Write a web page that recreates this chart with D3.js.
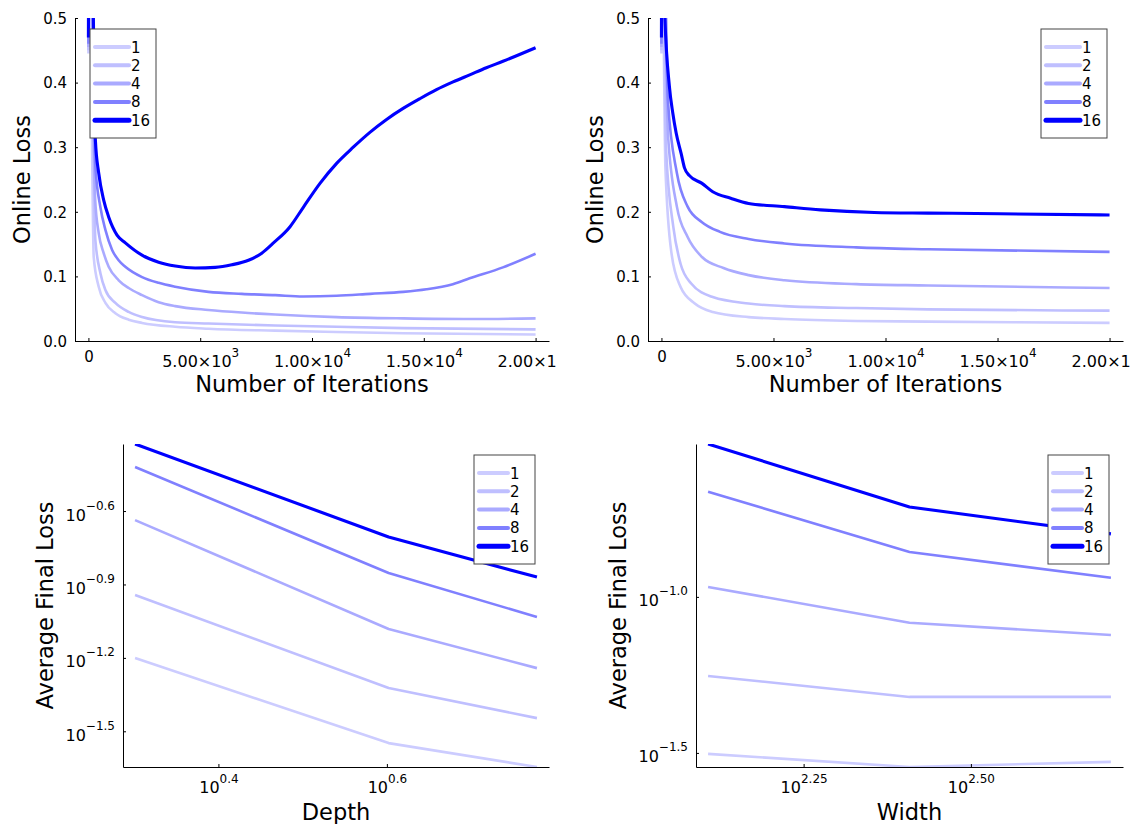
<!DOCTYPE html>
<html>
<head>
<meta charset="utf-8">
<script src="https://cdn.jsdelivr.net/npm/d3@7"></script>
<style>
body { margin: 0; background: #fff; }
text { font-family: "DejaVu Sans", sans-serif; fill: #000; }
</style>
</head>
<body>
<script>
'use strict'

var width = 1131
var height = 824

var seriesNames = ["1", "2", "4", "8", "16"]
var seriesColors = ["#ccccff", "#bfbfff", "#aaaaff", "#8080ff", "#0000ff"]

// online loss over iterations, left run: [iteration, loss]
var leftRun1 = [[0,0.445],[50,0.6],[238,0.13],[460,0.084],[760,0.059],[1205,0.043],[1800,0.033],[2400,0.028],[3880,0.022],[5370,0.019],[8350,0.016],[11100,0.014],[14080,0.012],[20000,0.010]]
var leftRun2 = [[0,0.45],[50,0.65],[312,0.156],[536,0.105],[760,0.079],[1205,0.059],[1800,0.045],[2400,0.037],[3880,0.029],[5370,0.027],[8350,0.024],[11100,0.022],[14080,0.020],[20000,0.018]]
var leftRun4 = [[0,0.455],[50,0.7],[300,0.22],[460,0.167],[683,0.136],[906,0.115],[1354,0.094],[1800,0.082],[2400,0.071],[3140,0.060],[3880,0.054],[5370,0.048],[6860,0.044],[8350,0.041],[11100,0.037],[14080,0.035],[17050,0.034],[20000,0.035]]
var leftRun8 = [[0,0.46],[50,0.8],[312,0.27],[536,0.207],[760,0.172],[1060,0.141],[1350,0.125],[1650,0.115],[2400,0.099],[3140,0.090],[3880,0.084],[5370,0.076],[6860,0.073],[8350,0.071],[9600,0.069],[11100,0.070],[12600,0.073],[14080,0.076],[15120,0.080],[16300,0.088],[17050,0.097],[18540,0.114],[20000,0.135]]
var leftRun16 = [[0,0.47],[50,0.9],[312,0.311],[460,0.26],[683,0.218],[906,0.192],[1280,0.164],[1652,0.152],[2397,0.133],[3140,0.122],[3884,0.116],[4777,0.113],[5670,0.114],[6414,0.118],[7158,0.125],[7753,0.136],[8250,0.151],[9018,0.177],[9612,0.207],[10357,0.244],[11101,0.275],[11845,0.300],[12589,0.323],[13335,0.343],[14076,0.360],[14821,0.375],[15567,0.389],[16308,0.401],[17054,0.412],[17799,0.423],[18540,0.433],[20000,0.454]]

// online loss over iterations, right run
var rightRun1 = [[0,0.445],[40,0.6],[176,0.27],[448,0.136],[849,0.084],[1489,0.058],[2290,0.045],[3891,0.037],[5492,0.034],[8695,0.031],[11898,0.030],[20000,0.028]]
var rightRun2 = [[0,0.45],[40,0.65],[208,0.296],[528,0.177],[849,0.120],[1329,0.089],[2290,0.068],[3891,0.058],[5492,0.054],[8695,0.051],[11898,0.049],[20000,0.047]]
var rightRun4 = [[0,0.455],[40,0.7],[288,0.322],[689,0.208],[1169,0.161],[1809,0.130],[2770,0.113],[3891,0.102],[5492,0.094],[8695,0.088],[11898,0.086],[20000,0.082]]
var rightRun8 = [[0,0.46],[40,0.8],[288,0.373],[689,0.260],[1169,0.208],[1809,0.184],[2610,0.169],[3891,0.158],[5492,0.151],[8695,0.145],[11898,0.142],[20000,0.138]]
var rightRun16 = [[0,0.47],[40,0.9],[134,0.52],[358,0.393],[506,0.353],[657,0.322],[881,0.290],[1029,0.268],[1250,0.256],[1810,0.244],[2290,0.231],[3090,0.221],[3890,0.213],[5490,0.208],[7090,0.203],[9500,0.199],[11900,0.198],[15100,0.197],[20000,0.195]]

// average final loss against depth
var depths = [2, 4, 6]
var depthLoss1 = [0.0630, 0.0283, 0.0226]
var depthLoss2 = [0.1140, 0.0475, 0.0358]
var depthLoss4 = [0.2307, 0.0828, 0.0573]
var depthLoss8 = [0.380, 0.1403, 0.0927]
var depthLoss16 = [0.472, 0.1968, 0.1349]

// average final loss against width
var widths = [128, 256, 512]
var widthLoss1 = [0.0314, 0.0285, 0.0296]
var widthLoss2 = [0.0558, 0.0478, 0.0478]
var widthLoss4 = [0.1076, 0.0826, 0.0755]
var widthLoss8 = [0.2173, 0.1393, 0.1151]
var widthLoss16 = [0.309, 0.1941, 0.1592]

// ticks
var iterTicks = [0, 5000, 10000, 15000, 20000]
var iterTickMant = ["0", "5.00×10", "1.00×10", "1.50×10", "2.00×10"]
var iterTickSup = ["", "3", "4", "4", "4"]
var lossTicks = [0, 0.1, 0.2, 0.3, 0.4, 0.5]
var lossTickLabels = ["0.0", "0.1", "0.2", "0.3", "0.4", "0.5"]
var depthTickExp = [0.4, 0.6]
var depthTickSup = ["0.4", "0.6"]
var depthLossTickExp = [-0.6, -0.9, -1.2, -1.5]
var depthLossTickSup = ["−0.6", "−0.9", "−1.2", "−1.5"]
var widthTickExp = [2.25, 2.5]
var widthTickSup = ["2.25", "2.50"]
var widthLossTickExp = [-1.0, -1.5]
var widthLossTickSup = ["−1.0", "−1.5"]

var svg = d3.select("body").append("svg")
  .attr("width", width)
  .attr("height", height)

function padLinear(lo, hi) {
  var p = 0.03 * (hi - lo)
  return [lo - p, hi + p]
}

function padLog(lo, hi) {
  var a = Math.log10(lo), b = Math.log10(hi), p = 0.03 * (b - a)
  return [Math.pow(10, a - p), Math.pow(10, b + p)]
}

function labelTicks(sel, mant, sup, baseY, supDy) {
  sel.selectAll(".tick text").each(function(d, i) {
    var t = d3.select(this)
    t.text(null).attr("dy", null).attr("font-family", "DejaVu Sans")
      .attr("font-size", sup[i] ? 16 : 15)
    if (baseY != null) t.attr("y", sup[i] ? baseY : baseY - 5)
    t.append("tspan").text(mant[i])
    if (sup[i]) t.append("tspan").attr("dy", supDy).attr("font-size", 12).text(sup[i])
  })
}

function addLegend(g, x0, y0, w) {
  var lg = g.append("g")
  lg.append("rect").attr("x", x0).attr("y", y0).attr("width", w).attr("height", 109)
    .attr("fill", "#fff").attr("stroke", "#444").attr("stroke-width", 1)
  seriesNames.forEach(function(name, i) {
    var yy = y0 + 18 + i * 18.3
    lg.append("line").attr("x1", x0 + 5).attr("x2", x0 + w - 27).attr("y1", yy).attr("y2", yy)
      .attr("stroke", seriesColors[i]).attr("stroke-width", i == 4 ? 5 : 4).attr("stroke-linecap", "round")
    lg.append("text").attr("x", x0 + w - 25).attr("y", yy + 5.5).attr("font-size", 15).text(name)
  })
}

function addPanel(opt) {
  var g = svg.append("g")
  var x = opt.x, y = opt.y
  var x0 = x.range()[0], x1 = x.range()[1], y0 = y.range()[1], y1 = y.range()[0]
  if (opt.clipRight) {
    svg.append("clipPath").attr("id", "panel" + opt.id)
      .append("rect").attr("x", 0).attr("y", 0).attr("width", opt.clipRight).attr("height", height)
    g.attr("clip-path", "url(#panel" + opt.id + ")")
  }
  svg.append("clipPath").attr("id", "area" + opt.id)
    .append("rect").attr("x", x0).attr("y", y0).attr("width", x1 - x0).attr("height", y1 - y0)

  var line = d3.line()
    .x(function(d) { return x(d[0]) })
    .y(function(d) { return y(d[1]) })
    .curve(opt.curve)
  g.append("g").attr("clip-path", "url(#area" + opt.id + ")")
    .selectAll("path")
    .data(opt.series)
    .enter()
    .append("path")
    .attr("d", line)
    .attr("fill", "none")
    .attr("stroke", function(d, i) { return seriesColors[i] })
    .attr("stroke-width", function(d, i) { return i == 4 ? 3.1 : 2.6 })
    .attr("stroke-linejoin", "round")

  var xa = g.append("g").attr("transform", "translate(0," + y1 + ")")
    .call(d3.axisBottom(x).tickValues(opt.xTicks).tickSizeInner(-3).tickSizeOuter(0))
  var ya = g.append("g").attr("transform", "translate(" + x0 + ",0)")
    .call(d3.axisLeft(y).tickValues(opt.yTicks).tickSizeInner(-3).tickSizeOuter(0))
  xa.selectAll("path, line").attr("stroke", "#000")
  ya.selectAll("path, line").attr("stroke", "#000")
  labelTicks(xa, opt.xMant, opt.xSup, opt.xLabelY, -10)
  labelTicks(ya, opt.yMant, opt.ySup, null, -11)
  ya.selectAll(".tick text").attr("x", -8).attr("dy", opt.yDy)

  g.append("text").attr("x", (x0 + x1) / 2).attr("y", opt.titleY)
    .attr("text-anchor", "middle").attr("font-size", 22.5).text(opt.xTitle)
  g.append("text").attr("transform", "translate(" + opt.yTitleX + "," + (y0 + y1) / 2 + ") rotate(-90)")
    .attr("text-anchor", "middle").attr("font-size", 22.5).text(opt.yTitle)

  addLegend(g, opt.legend[0], opt.legend[1], opt.legend[2])
}

function pairs(xs, ys) {
  return xs.map(function(v, i) { return [v, ys[i]] })
}

var leftRuns = [leftRun1, leftRun2, leftRun4, leftRun8, leftRun16]
var rightRuns = [rightRun1, rightRun2, rightRun4, rightRun8, rightRun16]
var depthRuns = [depthLoss1, depthLoss2, depthLoss4, depthLoss8, depthLoss16].map(function(s) { return pairs(depths, s) })
var widthRuns = [widthLoss1, widthLoss2, widthLoss4, widthLoss8, widthLoss16].map(function(s) { return pairs(widths, s) })

var iterDomain = padLinear(0, 20000)
var lossY = d3.scaleLinear().domain([0, 0.5]).range([341, 18])

addPanel({
  id: "tl", clipRight: 557,
  x: d3.scaleLinear().domain(iterDomain).range([75, 549]), y: lossY,
  series: leftRuns, curve: d3.curveMonotoneX,
  xTicks: iterTicks, xMant: iterTickMant, xSup: iterTickSup, xLabelY: 26,
  yTicks: lossTicks, yMant: lossTickLabels, ySup: lossTicks.map(function() { return "" }), yDy: "0.35em",
  xTitle: "Number of Iterations", titleY: 392, yTitle: "Online Loss", yTitleX: 30,
  legend: [90, 29, 66]
})

addPanel({
  id: "tr",
  x: d3.scaleLinear().domain(iterDomain).range([648, 1123]), y: lossY,
  series: rightRuns, curve: d3.curveMonotoneX,
  xTicks: iterTicks, xMant: iterTickMant, xSup: iterTickSup, xLabelY: 26,
  yTicks: lossTicks, yMant: lossTickLabels, ySup: lossTicks.map(function() { return "" }), yDy: "0.35em",
  xTitle: "Number of Iterations", titleY: 392, yTitle: "Online Loss", yTitleX: 603,
  legend: [1041, 29, 66]
})

var depthLossExtent = d3.extent(d3.merge(depthRuns), function(d) { return d[1] })
addPanel({
  id: "bl",
  x: d3.scaleLog().domain(padLog(depths[0], depths[depths.length - 1])).range([123, 549]),
  y: d3.scaleLog().domain(depthLossExtent).range([767, 444]),
  series: depthRuns, curve: d3.curveLinear,
  xTicks: depthTickExp.map(function(e) { return Math.pow(10, e) }), xMant: ["10", "10"], xSup: depthTickSup, xLabelY: 26,
  yTicks: depthLossTickExp.map(function(e) { return Math.pow(10, e) }), yMant: depthLossTickExp.map(function() { return "10" }), ySup: depthLossTickSup, yDy: 9,
  xTitle: "Depth", titleY: 820, yTitle: "Average Final Loss", yTitleX: 53,
  legend: [474, 455, 61]
})

var widthLossExtent = d3.extent(d3.merge(widthRuns), function(d) { return d[1] })
addPanel({
  id: "br",
  x: d3.scaleLog().domain(padLog(widths[0], widths[widths.length - 1])).range([696, 1123]),
  y: d3.scaleLog().domain(widthLossExtent).range([767, 444]),
  series: widthRuns, curve: d3.curveLinear,
  xTicks: widthTickExp.map(function(e) { return Math.pow(10, e) }), xMant: ["10", "10"], xSup: widthTickSup, xLabelY: 26,
  yTicks: widthLossTickExp.map(function(e) { return Math.pow(10, e) }), yMant: widthLossTickExp.map(function() { return "10" }), ySup: widthLossTickSup, yDy: 9,
  xTitle: "Width", titleY: 820, yTitle: "Average Final Loss", yTitleX: 626,
  legend: [1048, 455, 61]
})
</script>
</body>
</html>
